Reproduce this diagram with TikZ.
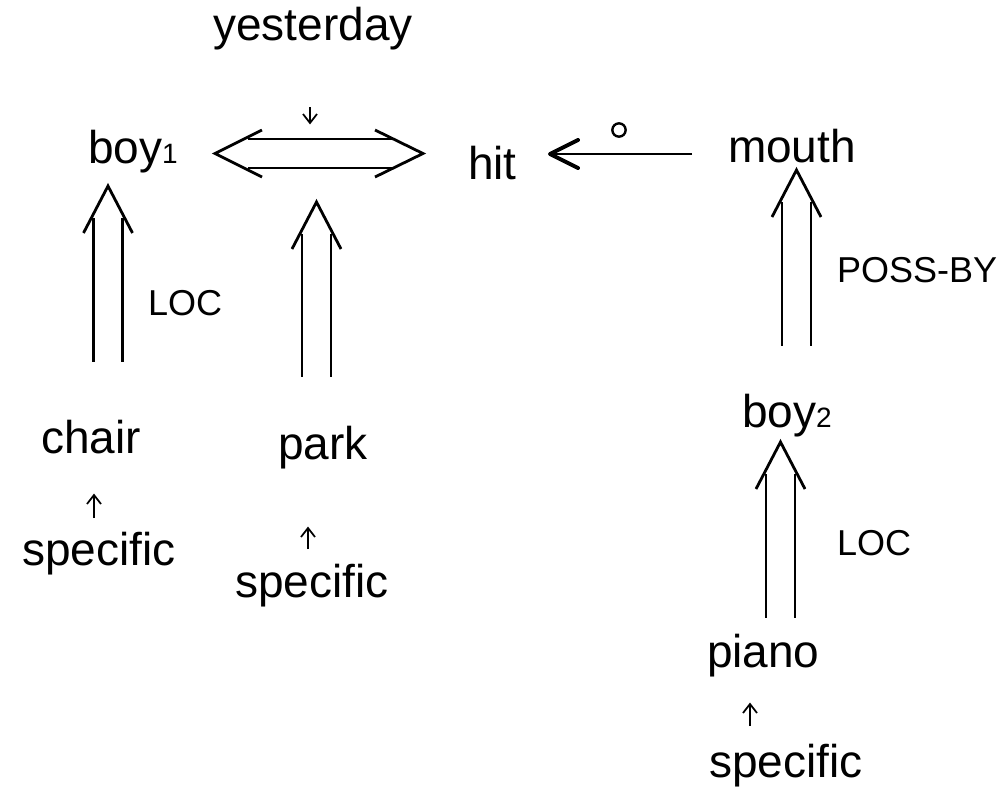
\documentclass[tikz,border=0pt]{standalone}
\usepackage{fontspec}
\setmainfont{Liberation Sans}
\usetikzlibrary{calc}
\begin{document}
\begin{tikzpicture}[x=0.75pt,y=-0.75pt,
  word/.style={inner sep=0pt,outer sep=0pt,anchor=base west,font=\fontsize{34.5}{40}\selectfont},
  rel/.style={inner sep=0pt,outer sep=0pt,anchor=base west,font=\fontsize{27}{30}\selectfont},
  dline/.style={line width=2.1pt},
  smallarr/.style={line width=1.3pt},
  ]
\newcommand{\subnum}[1]{{\fontsize{21}{21}\selectfont #1}}
% vertical double arrow: #1 tip, #2 tail (same x)
\newcommand{\vdarrow}[2]{%
  \draw[dline] ($(#1)+(-14.5,32)$) -- ($(#2)+(-14.5,0)$);
  \draw[dline] ($(#1)+(14.5,32)$) -- ($(#2)+(14.5,0)$);
  \draw[dline,line join=miter] ($(#1)+(-24.5,47)$) -- (#1) -- ($(#1)+(24.5,47)$);}
% small single arrow: #1 tail, #2 tip
\newcommand{\smarrow}[3]{%
  \draw[smallarr] (#1) -- (#2);
  \draw[smallarr] ($(#2)+(-7,#3)$) -- (#2) -- ($(#2)+(7,#3)$);}
\path[use as bounding box] (0,0) rectangle (1008,790);

% words
\node[word,anchor=base] (yesterday) at (313,40) {yesterday};
\node[word] (boy1) at (88,163) {boy\subnum{1}};
\node[word] (hit) at (468,179) {hit};
\node[word] (mouth) at (728,162) {mouth};
\node[word] (chair) at (41,453) {chair};
\node[word] (park) at (278,459) {park};
\node[word] (spec1) at (22,565) {specific};
\node[word] (spec2) at (235,597) {specific};
\node[word] (boy2) at (742,427) {boy\subnum{2}};
\node[word] (piano) at (707,667) {piano};
\node[word] (spec3) at (709,777) {specific};
\node[rel] (loc1) at (148,315) {LOC};
\node[rel] (possby) at (837,282) {POSS-BY};
\node[rel] (loc2) at (837,555) {LOC};

% anchor coordinates of connectors
\coordinate (ltip) at (215,153.5);
\coordinate (rtip) at (423,153.5);
\coordinate (a1tip) at (108,186);
\coordinate (a1tail) at (108,362);
\coordinate (a2tip) at (316.5,202);
\coordinate (a2tail) at (316.5,377);
\coordinate (a3tip) at (796.5,170);
\coordinate (a3tail) at (796.5,346);
\coordinate (a4tip) at (780.5,442);
\coordinate (a4tail) at (780.5,618);
\coordinate (hittip) at (550,154);
\coordinate (mouthtail) at (692,154);
\coordinate (ytail) at (310,107);
\coordinate (ytip) at (310,123);
\coordinate (s1tail) at (94,518);
\coordinate (s1tip) at (94,495);
\coordinate (s2tail) at (308,549);
\coordinate (s2tip) at (308,528);
\coordinate (s3tail) at (750,726);
\coordinate (s3tip) at (750,704);

% horizontal double arrow boy1 <=> hit
\draw[dline] ($(ltip)+(33,-14.5)$) -- ($(rtip)+(-31,-14.5)$);
\draw[dline] ($(ltip)+(33,14.5)$) -- ($(rtip)+(-31,14.5)$);
\draw[dline,line join=miter] ($(ltip)+(47,-23.5)$) -- (ltip) -- ($(ltip)+(47,23.5)$);
\draw[dline,line join=miter] ($(rtip)+(-48,-23.5)$) -- (rtip) -- ($(rtip)+(-48,23.5)$);

% vertical double arrows
\vdarrow{a1tip}{a1tail}
\vdarrow{a2tip}{a2tail}
\vdarrow{a3tip}{a3tail}
\vdarrow{a4tip}{a4tail}

% mouth -> hit
\draw[dline] (mouthtail) -- (hittip);
\draw[line width=3pt,line cap=round,line join=round] ($(hittip)+(28,-14)$) -- (hittip) -- ($(hittip)+(28,14)$);
\node[draw,circle,line width=1.8pt,minimum size=10pt,inner sep=0pt] (deg) at (619,130) {};

% small arrows
\smarrow{ytail}{ytip}{-9}
\smarrow{s1tail}{s1tip}{9}
\smarrow{s2tail}{s2tip}{9}
\smarrow{s3tail}{s3tip}{9}
\end{tikzpicture}
\end{document}
